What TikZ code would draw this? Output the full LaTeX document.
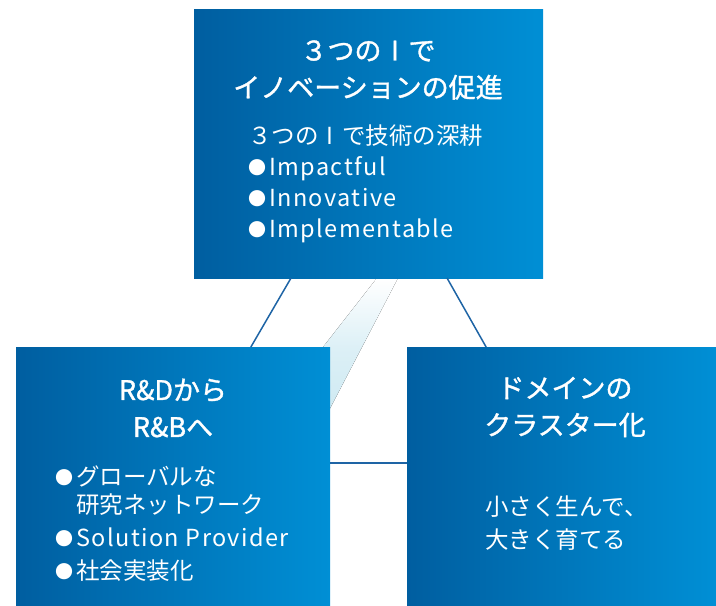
\documentclass[tikz,border=0pt]{standalone}
\usepackage{fontspec}
\setmainfont{Noto Sans CJK JP}
\newfontfamily\titlefont[FakeBold=1.2]{Noto Sans CJK JP}
\newfontfamily\widelatin[LetterSpace=6]{Noto Sans CJK JP}
\usetikzlibrary{calc, positioning}
\definecolor{boxdark}{RGB}{0,94,160}
\definecolor{boxlight}{RGB}{0,143,213}
\definecolor{linkblue}{RGB}{30,100,165}
\definecolor{bandcyan}{RGB}{205,233,242}
\newcommand\dotmark{\raisebox{1pt}{\fontsize{18}{18}\selectfont●}\hspace{3pt}}
\newcommand\barI{\makebox[1em]{I}}

\begin{document}
\begin{tikzpicture}[x=1pt, y=-1pt,
    box/.style={rectangle, inner sep=0pt, outer sep=0pt, anchor=north west,
        left color=boxdark, right color=boxlight},
    boxtitle/.style={text=white, align=center, inner sep=0pt,
        font=\fontsize{27}{37}\titlefont},
    boxbody/.style={text=white, align=left, anchor=west, inner sep=0pt,
        font=\fontsize{23.5}{31}\selectfont},
    link/.style={draw=linkblue, line width=1.5pt}]
    \useasboundingbox (0,0) rectangle (716,606);
    % pale band behind the boxes
    \fill[top color=white, bottom color=bandcyan, middle color=bandcyan!70]
        (377,278) -- (398,278) -- (324,420) -- (266,420) -- cycle;

    \node[box, minimum width=349pt, minimum height=269pt] (topbox) at (194,9) {};
    \node[box, minimum width=314pt, minimum height=259pt] (leftbox) at (16,347) {};
    \node[box, minimum width=309pt, minimum height=259pt] (rightbox) at (407,347) {};

    \node[boxtitle] (toptitle) at (368,70) {３つの\barI で\\イノベーションの促進};
    \node[boxbody] (topbody) at (248,184)
        {３つの\barI で技術の深耕\\\dotmark{\widelatin Impactful}\\\dotmark{\widelatin Innovative}\\\dotmark{\widelatin Implementable}};

    \node[boxtitle] (lefttitle) at (173,408) {R\&Dから\\R\&Bへ};
    \node[boxbody, font=\fontsize{23.5}{33}\selectfont] (leftbody) at (55,524)
        {\dotmark グローバルな\\[-5pt]\hphantom{\dotmark}研究ネットワーク\\\dotmark{\widelatin Solution Provider}\\\dotmark 社会実装化};

    \node[boxtitle] (righttitle) at (565,407) {ドメインの\\クラスター化};
    \node[boxbody, font=\fontsize{23.5}{33}\selectfont] (rightbody) at (485,523)
        {小さく生んで、\\大きく育てる};

    \draw[link] ($(topbox.south west)!0.278!(topbox.south east)$)
        -- ($(leftbox.north west)!0.748!(leftbox.north east)$);
    \draw[link] ($(topbox.south west)!0.725!(topbox.south east)$)
        -- ($(rightbox.north west)!0.256!(rightbox.north east)$);
    \draw[link] ($(leftbox.north east)!0.448!(leftbox.south east)$)
        -- ($(rightbox.north west)!0.448!(rightbox.south west)$);
\end{tikzpicture}
\end{document}
